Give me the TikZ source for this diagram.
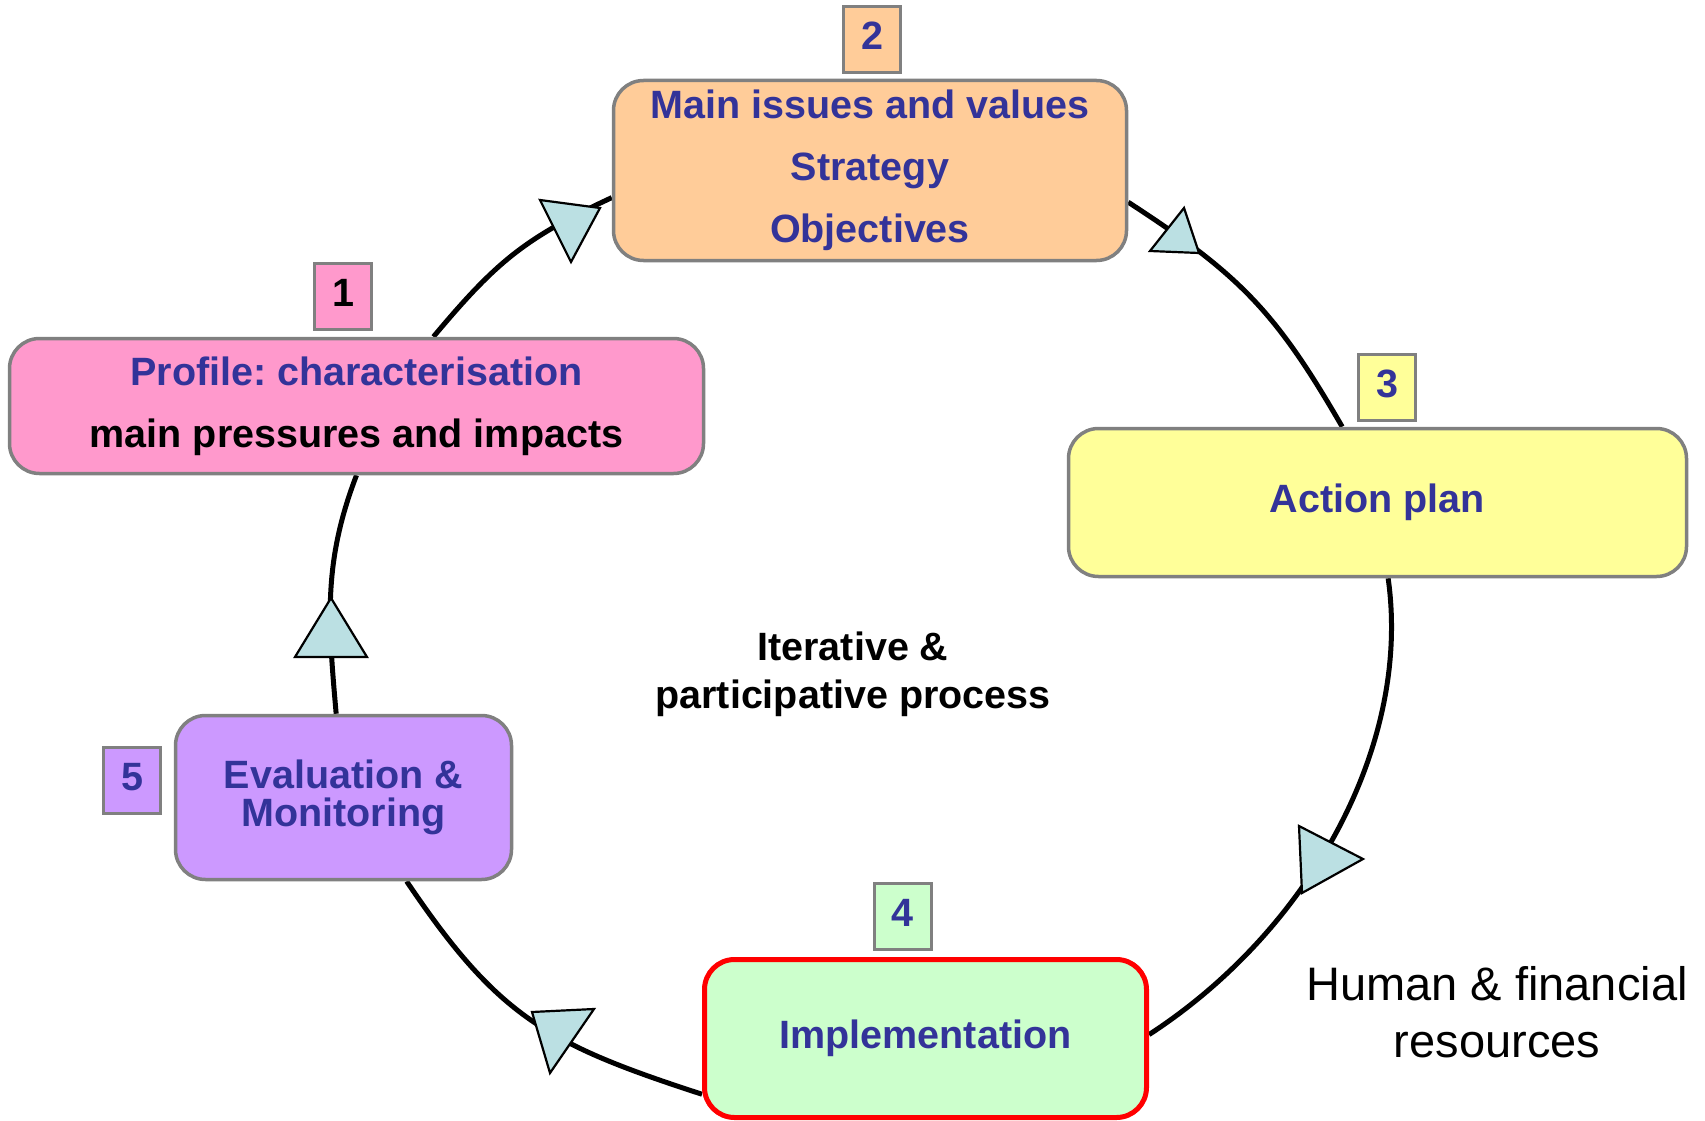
\documentclass[tikz,border=0pt]{standalone}
\usepackage{fontspec}
\setmainfont{Liberation Sans}
\usetikzlibrary{backgrounds}
\definecolor{txtblue}{HTML}{333399}
\definecolor{cpink}{HTML}{FF99CC}
\definecolor{corange}{HTML}{FFCC99}
\definecolor{cyellow}{HTML}{FFFF99}
\definecolor{cgreen}{HTML}{CCFFCC}
\definecolor{cpurple}{HTML}{CC99FF}
\definecolor{cgray}{HTML}{808080}
\definecolor{tipfill}{HTML}{BBE0E3}
\frenchspacing
\begin{document}
\begin{tikzpicture}[x=1pt,y=1pt,
  stage/.style={draw=cgray, line width=3.5pt, rounded corners=30pt, inner sep=0pt, align=center,
    font=\bfseries\fontsize{39.5}{62}\selectfont, text=txtblue},
  numbox/.style={draw=cgray, line width=3pt, minimum width=57pt, minimum height=66pt, inner sep=0pt,
    text depth=7pt, font=\bfseries\fontsize{39.5}{47}\selectfont, text=txtblue},
  flow/.style={line width=5pt, draw=black},
  tiptri/.style={fill=tipfill, draw=black, line width=2.2pt, line join=miter},
  note/.style={align=center, font=\bfseries\fontsize{39.5}{48}\selectfont, text=black}
]
\useasboundingbox (0,0) rectangle (1705,-1121);

% stage boxes
\node[stage, fill=cpink, minimum width=694pt, minimum height=135pt] (b1) at (356.5,-406)
  {Profile: characterisation\\\textcolor{black}{main pressures and impacts}};
\node[stage, fill=corange, minimum width=513pt, minimum height=180pt] (b2) at (870,-170.5)
  {Main issues and values\\Strategy\\Objectives};
\node[stage, fill=cyellow, minimum width=618pt, minimum height=148pt] (b3) at (1377.5,-502.5)
  {Action plan};
\node[stage, fill=cgreen, draw=red, line width=5pt, minimum width=442pt, minimum height=158pt] (b4) at (925.5,-1038.5)
  {Implementation};
\node[stage, fill=cpurple, minimum width=336pt, minimum height=164pt,
  font=\bfseries\fontsize{39.5}{38}\selectfont] (b5) at (343.5,-797.5)
  {Evaluation \&\\Monitoring};

% number labels
\node[numbox, fill=cpink, text=black] (l1) at (343,-296.5) {1};
\node[numbox, fill=corange] (l2) at (872,-39.5) {2};
\node[numbox, fill=cyellow] (l3) at (1387,-387.5) {3};
\node[numbox, fill=cgreen] (l4) at (902.5,-916.5) {4};
\node[numbox, fill=cpurple] (l5) at (132,-780.5) {5};

% free texts
\node[note] (centre) at (853,-674) {Iterative \&\\participative process};
\node[align=center, font=\fontsize{47}{57}\selectfont, text=black] (res) at (1497,-1012)
  {Human \& financial\\resources};

% connectors
\begin{scope}[on background layer]
\draw[flow] (b1.42) to[out=50,in=205,looseness=1.1] (b2.186);
\draw[flow] (b2.-7.6) to[out=-33,in=120,looseness=1.1] (b3.115);
\draw[flow] (b3.-82) .. controls +(-82:170) and +(33:190) .. (b4.1);
\draw[flow] (b4.194) to[out=162,in=-56,looseness=1.15] (b5.-53);
\draw[flow] (b5.95) to[out=95,in=249] (b1.south);
\end{scope}

% triangles on the connectors
\filldraw[tiptri] (540,-200) -- (600,-208) -- (571,-262) -- cycle;
\filldraw[tiptri] (1184,-208) -- (1150,-251) -- (1199,-253) -- cycle;
\filldraw[tiptri] (1299,-826) -- (1363,-859) -- (1302,-893) -- cycle;
\filldraw[tiptri] (532,-1012) -- (594,-1009) -- (550,-1073) -- cycle;
\filldraw[tiptri] (331,-598) -- (295,-657) -- (367,-657) -- cycle;
\end{tikzpicture}
\end{document}
